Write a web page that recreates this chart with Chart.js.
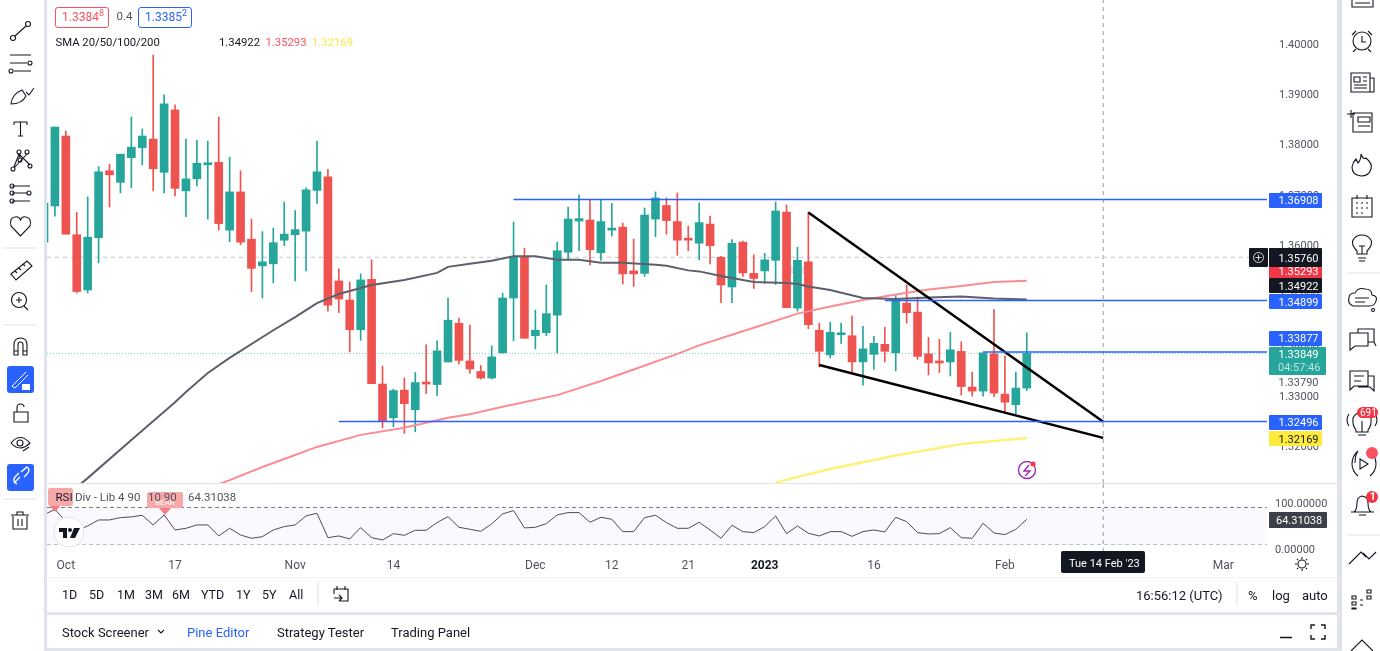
<!DOCTYPE html>
<html>
<head>
<meta charset="utf-8">
<title>GBP/USD daily</title>
<script src="https://cdn.jsdelivr.net/npm/chart.js@4"></script>
<style>
  html, body { margin: 0; padding: 0; width: 1380px; height: 651px; overflow: hidden; background: #e0e3eb; font-family: Roboto, sans-serif; color: #131722; }
  .panel { position: absolute; background: #fff; }
  canvas { position: absolute; }
  .txt { position: absolute; white-space: nowrap; transform: translateY(-50%); line-height: 1; }
  .box { position: absolute; box-sizing: border-box; }
  svg.ic { position: absolute; left: 0; top: 0; pointer-events: none; }
  svg.ic * { fill: none; stroke: #131722; stroke-width: 1.1; }
  sup { font-size: 9px; line-height: 0; }
</style>
</head>
<body>
<div class="panel" style="left:0;top:0;width:44px;height:651px"></div>
<div class="panel" style="left:1342px;top:0;width:38px;height:651px"></div>
<div class="panel" style="left:47px;top:0;width:1290px;height:612px"></div>
<div class="panel" style="left:47px;top:615px;width:1290px;height:33px"></div>
<div class="box" style="left:47px;top:577px;width:1290px;height:1px;background:#f0f3fa"></div>
<div class="box" style="left:47px;top:483px;width:1290px;height:1px;background:#e0e3eb"></div>
<div class="box" style="left:790px;top:266px;width:15px;height:8px;background:#eadcf2"></div>
<canvas id="price-chart" style="left:47px;top:0" width="1290" height="483"></canvas>
<canvas id="rsi-chart" style="left:47px;top:484px" width="1290" height="93"></canvas>

<svg class="ic" width="1380" height="651">
  <!-- left toolbar -->
  <circle cx="13" cy="38" r="2.5"/><circle cx="28" cy="24" r="2.5"/><path d="M15 36 L26 26"/>
  <path d="M10 55 H31 M10 63 H27 M14 71 H31"/><circle cx="30" cy="63" r="2"/><circle cx="11" cy="71" r="2"/>
  <path d="M11 104 Q12 94 22 90 L26 96 Q22 104 11 104 Z M26 92 L29 95 L34 88"/>
  <path d="M14 122 H27 V125 M14 122 V125 M20.500 122 V136 M18 136 H23"/>
  <circle cx="13" cy="169" r="2"/><circle cx="19" cy="152" r="2"/><circle cx="27" cy="152" r="2"/><circle cx="30" cy="166" r="2"/><circle cx="20" cy="160" r="2"/>
  <path d="M14 167 L19 154 L30 165 M27 154 L14 168 M19 154 L20 158"/>
  <path d="M12 186 H30 M12 193 H27 M12 201 H30"/><circle cx="12" cy="186" r="2"/><circle cx="12" cy="193" r="2"/><circle cx="29" cy="193" r="2"/><circle cx="12" cy="201" r="2"/>
  <path d="M20.500 236 L11 226 Q9 218 15 217 Q19 216 20.500 220 Q22 216 26 217 Q32 218 30 226 Z"/>
  <path d="M4 248 H37" style="stroke:#e0e3eb"/>
  <path d="M11 274 L27 261 L32 266 L16 280 Z M15 271 L17 273 M19 268 L21 270 M23 264 L25 266"/>
  <circle cx="19" cy="300" r="7.500"/><path d="M19 297 V303 M16 300 H22 M24 306 L28 310"/>
  <path d="M4 325 H37" style="stroke:#e0e3eb"/>
  <path d="M14 355 V345 Q14 338 20.500 338 Q27 338 27 345 V355 H23 V345 Q23 342 20.500 342 Q18 342 18 345 V355 Z M14 351 H18 M23 351 H27"/>
  <path d="M14 412 H28 V422 H14 Z M17 412 V408 Q17 404 20.500 404 Q24 404 24 407"/>
  <path d="M11 443 Q20 432 30 443 Q20 453 11 443 Z"/><circle cx="20" cy="443" r="3"/><path d="M23 451 L29 447"/>
  <path d="M4 499 H37" style="stroke:#e0e3eb"/>
  <path d="M13 516 V529 H27 V516 M11 515 H29 M17 515 V512 H23 V515 M18 519 V526 M22 519 V526"/>

  <!-- right toolbar -->
  <path d="M1352 0 V7 H1373 V0 M1355 3 H1370"/>
  <circle cx="1362" cy="41" r="9"/><path d="M1362 36 V42 H1366 M1352 35 L1356 31 M1372 35 L1368 31 M1356 49 L1353 52 M1368 49 L1371 52"/>
  <path d="M1351 73 H1370 V92 H1351 Z M1370 78 H1374 V92 H1370 M1354 77 H1360 V82 H1354 Z M1363 77 H1367 M1363 81 H1367 M1354 85 H1367 M1354 88 H1367"/>
  <path d="M1353 113 H1372 V132 H1353 Z M1358 117 H1370 V122 H1358 Z M1358 126 H1370 M1347 114 H1355 M1351 110 V118"/>
  <path d="M1361 154 Q1363 160 1366 158 Q1373 164 1371 169 Q1369 176 1361 176 Q1352 175 1352 167 Q1353 162 1356 159 L1358 163 Q1361 160 1361 154 Z"/>
  <path d="M1352 198 H1372 V217 H1352 Z M1357 195 V199 M1367 195 V199 M1356 203 H1358 M1361 203 H1363 M1366 203 H1368 M1356 208 H1358 M1361 208 H1363 M1366 208 H1368 M1356 213 H1358 M1361 213 H1363"/>
  <path d="M1357 251 Q1351 245 1353 240 Q1356 235 1362 235 Q1368 235 1371 240 Q1373 245 1367 251 V254 H1357 Z M1358 258 H1366 M1359 261 H1365 M1362 246 V254 M1359 246 H1365"/>
  <path d="M1347 273 H1380" style="stroke:#e0e3eb"/>
  <path d="M1353 306 Q1347 303 1349 298 Q1349 293 1355 293 Q1358 287 1365 289 Q1372 289 1372 295 Q1378 296 1376 301 Q1375 306 1369 306 Z M1355 298 H1369 M1355 302 H1365"/><circle cx="1373" cy="310" r="1.500"/>
  <path d="M1350 333 H1368 V346 H1355 L1350 350 Z M1358 333 V329 H1374 V342 H1368 M1374 342 L1376 346"/>
  <path d="M1350 371 H1368 V386 H1354 L1350 390 Z M1354 376 H1364 M1354 381 H1361 M1368 376 H1374 V391 L1370 387 H1358"/>
  <path d="M1356 430 Q1352 425 1353 418 Q1356 412 1362 412 Q1368 412 1371 418 Q1372 425 1368 430 V432 H1356 Z M1358 435 H1366 M1362 421 V432 M1349 414 Q1345 420 1349 426 M1375 414 Q1379 420 1375 426"/>
  <path d="M1355 463 Q1355 455 1358 451 Q1352 456 1352 464 Q1352 471 1358 476 M1370 451 Q1376 456 1376 464 Q1376 471 1370 476 M1360 459 L1368 464 L1360 469 Z"/>
  <path d="M1354 512 Q1357 510 1357 503 Q1357 497 1362 496 Q1368 497 1368 503 Q1368 510 1371 512 Z M1351 512 H1374 M1359 515 H1366"/>
  <path d="M1347 535 H1380" style="stroke:#e0e3eb"/>
  <path d="M1349 564 L1361 552 L1366 557 M1376 552 L1369 559 L1363 553"/>
  <path d="M1352 596 h4 v3 h-4 z M1352 602 h4 v3 h-4 z M1352 608 h4 v1 h-4 z M1360 600 h3 M1360 605 h3 M1367 590 h4 v3 h-4 z M1367 596 h4 v3 h-4 z"/>
  <path d="M1351 651 L1362 640 L1373 651"/>

  <!-- bottom bars and axis corner -->
  <circle cx="1302" cy="564" r="4"/><path d="M1302 557 V559 M1302 569 V571 M1295 564 H1297 M1307 564 H1309 M1297 559 L1298 560 M1306 568 L1307 569 M1297 569 L1298 568 M1306 560 L1307 559"/>
  <path d="M334 589 H348 V601 H339 M334 589 V594 M337 586 V590 M345 586 V590 M334 598 H342 M339 595 L342 598 L339 601"/>
  <path d="M318 582 V606 M1237 582 V606" style="stroke:#e0e3eb"/>
  <path d="M158 630 L161 633 L164 630"/>
  <path d="M1280 637.500 H1292" style="stroke-width:1.5"/>
  <path d="M1311 629 V625 H1315 M1321 625 H1325 V629 M1325 635 V639 H1321 M1315 639 H1311 V635" style="stroke-width:1.4"/>
  <circle cx="1027" cy="470" r="8.500" style="stroke:#9c27b0;stroke-width:1.4"/>
  <path d="M1029 465 L1024 471 H1030 L1025 476" style="stroke:#9c27b0;stroke-width:1.4"/>
</svg>

<!-- filled marks, badges and blue toolbar buttons -->
<svg class="fill" style="position:absolute;left:0;top:0" width="1380" height="651">
  <rect x="7" y="366" width="27" height="27" rx="3" fill="#2962ff"/>
  <path d="M12 386 L26 372 M15 388 L28 375 M12 386 L15 388" stroke="#fff" fill="none"/>
  <rect x="22" y="384" width="8" height="6" fill="#fff"/>
  <rect x="7" y="464" width="27" height="27" rx="3" fill="#2962ff"/>
  <path d="M14 483 L20 477 M21 472 L27 467 Q31 470 27 474 L24 477 M17 484 Q12 481 15 477 L19 473" stroke="#fff" stroke-width="1.4" fill="none"/>
  <rect x="48" y="488" width="25" height="18" rx="2" fill="#f7a9a9"/>
  <path d="M50 506 H60 L55 512 Z" fill="#f77c80"/>
  <rect x="147" y="492" width="36" height="16" rx="2" fill="#f7a9a9"/>
  <path d="M159 508 H171 L165 515 Z" fill="#f77c80"/>
  <circle cx="69" cy="532" r="15" fill="#fff" stroke="#e0e3eb"/>
  <path d="M59 528 H67 V538 H63 V532 H59 Z M74 528 H80 L75 538 H70 Z" fill="#131722"/><circle cx="70" cy="530" r="2" fill="#131722"/>
  <circle cx="1033" cy="464" r="2.500" fill="#f23645"/>
  <rect x="1357" y="407" width="21" height="11" rx="5.500" fill="#f23645"/>
  <circle cx="1372" cy="453" r="6" fill="#f7525f"/>
  <circle cx="1372" cy="497" r="6" fill="#f23645"/>
</svg>

<div id="labels"></div>

<svg style="position:absolute;left:0;top:0" width="1380" height="651">
  <circle cx="1258.500" cy="257.500" r="5" stroke="#fff" stroke-width=".8" fill="none"/>
  <path d="M1258.500 254.500 V260.500 M1255.500 257.500 H1261.500" stroke="#fff" stroke-width=".8"/>
</svg>

<script>
// day index of each candle runs 0..90 (first one is clipped by the left edge)
const opens = [
  1.3606,1.3678,1.3817,1.3621,1.3511,1.3615,1.3748,1.3725,1.3774,1.3794,
  1.3811,1.3745,1.3869,1.3708,1.3732,1.3760,1.3765,1.3630,1.3706,1.3612,
  1.3559,1.3563,1.3610,1.3621,1.3628,1.3709,1.3736,1.3529,1.3491,1.3432,
  1.3532,1.3324,1.3257,1.3312,1.3273,1.3328,1.3323,1.3368,1.3445,1.3370,
  1.3349,1.3336,1.3386,1.3495,1.3576,1.3420,1.3426,1.3461,1.3586,1.3648,
  1.3650,1.3585,1.3630,1.3636,1.3549,1.3544,1.3652,1.3679,1.3647,1.3612,
  1.3604,1.3642,1.3576,1.3517,1.3606,1.3544,1.3549,1.3570,1.3666,1.3475,
  1.3567,1.3431,1.3382,1.3422,1.3420,1.3368,1.3383,1.3403,1.3386,1.3485,
  1.3467,1.3384,1.3370,1.3368,1.3389,1.3318,1.3310,1.3384,1.3304,1.3283,1.3316
];
const highs = [
  1.3684,1.3835,1.3827,1.3665,1.3696,1.3756,1.3761,1.3781,1.3855,1.3831,
  1.3978,1.3899,1.3879,1.3811,1.3809,1.3807,1.3855,1.3775,1.3748,1.3652,
  1.3627,1.3634,1.3686,1.3669,1.3714,1.3807,1.3751,1.3553,1.3527,1.3543,
  1.3571,1.3360,1.3314,1.3336,1.3347,1.3402,1.3410,1.3495,1.3455,1.3441,
  1.3361,1.3400,1.3505,1.3646,1.3594,1.3471,1.3521,1.3606,1.3676,1.3700,
  1.3690,1.3690,1.3683,1.3644,1.3612,1.3674,1.3706,1.3694,1.3704,1.3638,
  1.3684,1.3658,1.3578,1.3611,1.3608,1.3581,1.3584,1.3686,1.3680,1.3596,
  1.3666,1.3445,1.3447,1.3445,1.3459,1.3439,1.3419,1.3437,1.3501,1.3521,
  1.3497,1.3417,1.3413,1.3427,1.3408,1.3348,1.3386,1.3472,1.3380,1.3348,1.3426
];
const lows = [
  1.3606,1.3658,1.3622,1.3505,1.3505,1.3565,1.3676,1.3704,1.3714,1.3760,
  1.3708,1.3704,1.3698,1.3657,1.3718,1.3652,1.3630,1.3607,1.3601,1.3508,
  1.3495,1.3525,1.3599,1.3529,1.3549,1.3683,1.3469,1.3466,1.3388,1.3411,
  1.3325,1.3237,1.3239,1.3226,1.3229,1.3305,1.3301,1.3368,1.3364,1.3345,
  1.3334,1.3334,1.3386,1.3410,1.3415,1.3394,1.3420,1.3386,1.3571,1.3589,
  1.3561,1.3570,1.3618,1.3523,1.3518,1.3538,1.3617,1.3622,1.3580,1.3589,
  1.3571,1.3563,1.3486,1.3486,1.3538,1.3514,1.3524,1.3522,1.3476,1.3469,
  1.3434,1.3358,1.3376,1.3405,1.3347,1.3322,1.3353,1.3368,1.3350,1.3445,
  1.3373,1.3342,1.3347,1.3340,1.3302,1.3300,1.3300,1.3299,1.3266,1.3265,1.3311
];
const closes = [
  1.3684,1.3835,1.3622,1.3508,1.3616,1.3746,1.3740,1.3781,1.3795,1.3817,
  1.3752,1.3881,1.3713,1.3732,1.3763,1.3763,1.3643,1.3706,1.3606,1.3554,
  1.3567,1.3605,1.3622,1.3631,1.3710,1.3746,1.3481,1.3493,1.3432,1.3531,
  1.3325,1.3250,1.3311,1.3285,1.3327,1.3324,1.3390,1.3451,1.3371,1.3354,
  1.3336,1.3378,1.3495,1.3578,1.3415,1.3431,1.3464,1.3589,1.3652,1.3653,
  1.3591,1.3647,1.3634,1.3543,1.3543,1.3660,1.3694,1.3649,1.3610,1.3610,
  1.3645,1.3599,1.3521,1.3604,1.3545,1.3534,1.3571,1.3668,1.3476,1.3570,
  1.3442,1.3389,1.3427,1.3425,1.3368,1.3394,1.3405,1.3389,1.3493,1.3466,
  1.3379,1.3366,1.3366,1.3392,1.3319,1.3310,1.3386,1.3306,1.3288,1.3316,1.33849
];

const sma50Days = [3,4,8,12,13,15,17,21,23,25,27,30,33,36,37,39,41,43,45,47,49,51,53,56,57,59,60,62,65,68,69,70,72,75,78,81,84,87,90];
const sma50 = [1.3119,1.3137,1.3213,1.3288,1.3308,1.3346,1.3376,1.3431,1.3457,1.3485,1.3503,1.3521,1.3531,1.3545,1.3557,1.3563,1.3569,1.3578,1.3578,1.3571,1.3571,1.3565,1.3565,1.3561,1.3559,1.3550,1.3548,1.3539,1.3527,1.3525,1.3523,1.3518,1.3511,1.3495,1.3493,1.3496,1.3498,1.3494,1.34922];
const sma100Days = [16,17,20,23,25,29,33,37,39,42,47,51,54,58,60,63,67,69,72,75,78,81,84,87,90];
const sma100 = [1.3125,1.3133,1.3159,1.3183,1.3199,1.3223,1.3237,1.3257,1.3264,1.3279,1.3302,1.3330,1.3353,1.3384,1.3401,1.3422,1.3450,1.3464,1.3478,1.3491,1.3502,1.3512,1.3519,1.3527,1.35293];
const sma200Days = [67,68,72,78,84,90];
const sma200 = [1.3128,1.3134,1.3155,1.3182,1.3205,1.32169];

const rsiValues = [
  74,86.2,59.4,39.9,50,63,63,68.1,69.6,73.2,
  52.2,73.9,41.3,44.9,52.2,52.2,28.3,44.9,30.4,23.2,
  26.8,41.3,48.6,52.2,71.7,77.5,24.6,28.3,21.7,46.4,
  24.6,19.6,33.3,29.7,40.6,40.6,57.3,70.3,47.1,42.8,
  38.4,54.4,76.1,83.3,45.7,47.1,55.1,73.9,79,79,
  58,68.8,64.5,37.7,37.7,68.1,73.2,57.3,44.9,44.9,
  58,41.3,23.2,51.5,37.7,35.5,48.6,71.7,33.3,50,
  34.1,28.3,37.7,37.7,27.5,37.7,41.3,37,68.8,59.4,
  35.5,32.6,33.3,46.4,24.6,23.2,55.8,34.8,31.2,42.8,64.31038
];

// horizontal levels: price and the day each one starts on
const levelPrices = [1.36908, 1.34899, 1.33877, 1.32496];
const levelStartDays = [43, 77, 86, 27];
// wedge lines: start day, start price, end day, end price
const wedgeUpper = [70, 1.3665, 97, 1.3249];
const wedgeLower = [71, 1.3362, 97, 1.3217];

const priceTicks = [1.40, 1.39, 1.38, 1.37, 1.36, 1.35, 1.34, 1.33, 1.32];
const rsiTicks = [100, 0];
const rsiBands = [90, 10];
const dateTickDays = [2, 12, 23, 32, 45, 52, 59, 66, 76, 88, 108];
const dateTickLabels = ['Oct', '17', 'Nov', '14', 'Dec', '12', '21', '2023', '16', 'Feb', 'Mar'];

const crosshairDay = 97;
const crosshairPrice = 1.3576;
const lastPrice = 1.33849;

const up = '#26a69a';
const down = '#ef5350';
const dayMin = 0.275, dayMax = 112;
const priceMin = 1.31273, priceMax = 1.40875;
const rsiMin = -6.5, rsiMax = 141;

function toPoints(xs, ys) {
  return xs.map((x, i) => ({ x: x, y: ys[i] }));
}

const candleColors = closes.map((c, i) => c >= opens[i] ? up : down);

function lineSet(data, color, width, extra) {
  return Object.assign({
    type: 'line', data: data, borderColor: color, borderWidth: width,
    pointRadius: 0, tension: 0, order: 0
  }, extra || {});
}

// chart.js reserves half a label plus padding at the ends of an axis, we want the plot edge to edge
function noEndPadding(axis) {
  axis.paddingTop = 0;
  axis.paddingBottom = 0;
  axis.paddingLeft = 0;
  axis.paddingRight = 0;
}

const priceDatasets = [
  { type: 'bar', data: highs.map((h, i) => ({ x: i, y: [lows[i], h] })), backgroundColor: candleColors, barThickness: 1, order: 3 },
  { type: 'bar', data: opens.map((o, i) => ({ x: i, y: [o, closes[i]] })), backgroundColor: candleColors, barThickness: 8, minBarLength: 2, order: 2 },
  lineSet(toPoints(sma50Days, sma50), '#5d606b', 2, { order: 1 }),
  lineSet(toPoints(sma100Days, sma100), '#fb8c92', 2, { order: 1 }),
  lineSet(toPoints(sma200Days, sma200), '#fff176', 2.5, { order: 1 }),
  lineSet([{ x: dayMin, y: crosshairPrice }, { x: dayMax, y: crosshairPrice }], '#c4c6cc', 1, { borderDash: [4, 4], order: 4 }),
  lineSet([{ x: dayMin, y: lastPrice }, { x: dayMax, y: lastPrice }], '#7fcdc5', 1, { borderDash: [1, 2], order: 4 }),
  lineSet([{ x: crosshairDay, y: priceMin }, { x: crosshairDay, y: priceMax }], '#9598a1', 1, { borderDash: [4, 4], order: 4 })
];
levelPrices.forEach((p, i) => {
  priceDatasets.push(lineSet([{ x: levelStartDays[i], y: p }, { x: dayMax, y: p }], '#2962ff', 1.5));
});
[wedgeUpper, wedgeLower].forEach(w => {
  priceDatasets.push(lineSet([{ x: w[0], y: w[1] }, { x: w[2], y: w[3] }], '#000000', 2.5));
});

const tickFont = { family: 'Roboto, sans-serif', size: 11 };
const tickColor = '#50535e';

new Chart(document.getElementById('price-chart'), {
  data: { datasets: priceDatasets },
  options: {
    responsive: false,
    animation: false,
    layout: { padding: 0 },
    datasets: { bar: { grouped: false } },
    plugins: { legend: { display: false }, tooltip: { enabled: false } },
    scales: {
      x: { type: 'linear', min: dayMin, max: dayMax, offset: false, display: false },
      y: {
        type: 'linear', position: 'right', min: priceMin, max: priceMax,
        grid: { display: false }, border: { display: false },
        afterBuildTicks: axis => { axis.ticks = priceTicks.map(v => ({ value: v })); },
        afterFit: axis => { axis.width = 70; noEndPadding(axis); },
        ticks: { color: tickColor, font: tickFont, padding: 4, labelOffset: 1, callback: v => v.toFixed(5) }
      }
    }
  }
});

const rsiDatasets = [
  lineSet(rsiValues.map((v, i) => ({ x: i, y: v })), '#4a4d57', 1, { order: 0 }),
  lineSet([{ x: dayMin, y: rsiBands[0] }, { x: dayMax, y: rsiBands[0] }], '#787b86', 1, {
    borderDash: [4, 3], order: 2, fill: { value: rsiBands[1] }, backgroundColor: '#fbf8fe'
  }),
  lineSet([{ x: dayMin, y: rsiBands[1] }, { x: dayMax, y: rsiBands[1] }], '#787b86', 1, { borderDash: [4, 3], order: 2 }),
  lineSet([{ x: crosshairDay, y: rsiMin }, { x: crosshairDay, y: rsiMax }], '#9598a1', 1, { borderDash: [4, 4], order: 1 })
];

new Chart(document.getElementById('rsi-chart'), {
  data: { datasets: rsiDatasets },
  options: {
    responsive: false,
    animation: false,
    layout: { padding: 0 },
    plugins: { legend: { display: false }, tooltip: { enabled: false } },
    scales: {
      x: {
        type: 'linear', min: dayMin, max: dayMax,
        grid: { display: false }, border: { display: false },
        afterBuildTicks: axis => { axis.ticks = dateTickDays.map(v => ({ value: v })); },
        afterFit: axis => { axis.height = 25; noEndPadding(axis); },
        ticks: {
          autoSkip: false, maxRotation: 0, padding: -1,
          color: ctx => ctx.tick && ctx.tick.value === 66 ? '#131722' : tickColor,
          font: ctx => Object.assign({}, tickFont, { size: 12, weight: ctx.tick && ctx.tick.value === 66 ? 'bold' : 'normal' }),
          callback: v => dateTickLabels[dateTickDays.indexOf(v)]
        }
      },
      y: {
        type: 'linear', position: 'right', min: rsiMin, max: rsiMax,
        grid: { display: false }, border: { display: false },
        afterBuildTicks: axis => { axis.ticks = rsiTicks.map(v => ({ value: v })); },
        afterFit: axis => { axis.width = 70; noEndPadding(axis); },
        ticks: { color: tickColor, font: tickFont, padding: 0, labelOffset: 1, callback: v => v.toFixed(5) }
      }
    }
  }
});

// text overlay, everything stays real text
const host = document.getElementById('labels');
function text(str, x, y, size, color, extra) {
  const el = document.createElement('div');
  el.className = 'txt';
  el.innerHTML = str;
  el.style.cssText = 'left:' + x + 'px;top:' + y + 'px;font-size:' + size + 'px;color:' + color + ';' + (extra || '');
  host.appendChild(el);
}
function box(x, y, w, h, css) {
  const el = document.createElement('div');
  el.className = 'box';
  el.style.cssText = 'left:' + x + 'px;top:' + y + 'px;width:' + w + 'px;height:' + h + 'px;' + css;
  host.appendChild(el);
}
function tag(str, top, bg, color) {
  box(1269, top, 53, 15, 'background:' + bg + ';border-radius:1px');
  text(str, 1278.5, top + 7.5, 11, color);
}

tag('1.36908', 192.5, '#2962ff', '#fff');
tag('1.35293', 263.5, '#f23645', '#fff');
box(1249, 248, 19, 19, 'background:#131722;border-radius:1px');
box(1269, 248, 53, 19, 'background:#131722;border-radius:1px');
text('1.35760', 1278.5, 258, 11, '#fff');
tag('1.34922', 278, '#131722', '#fff');
tag('1.34899', 294, '#2962ff', '#fff');
tag('1.33877', 330.5, '#2962ff', '#fff');
box(1269, 346.5, 57, 28, 'background:#26a69a;border-radius:1px');
text('1.33849', 1278.5, 354, 11, '#fff');
text('04:57:46', 1278, 367, 11, '#bfe5e1');
text('1.33790', 1278.5, 381.5, 11, '#50535e');
tag('1.32496', 414.5, '#2962ff', '#fff');
tag('1.32169', 431, '#ffeb3b', '#131722');
box(1269, 512, 58, 15.5, 'background:#3d4048;border-radius:1px');
text('64.31038', 1276, 520, 11, '#fff');

box(55, 6.5, 53.5, 21, 'border:1px solid #f7525f;border-radius:3px');
text('1.3384<sup>8</sup>', 62, 17, 12, '#f7525f');
text('0.4', 116.500, 17, 11.5, '#50535e');
box(138, 6.5, 53.5, 21, 'border:1px solid #2962ff;border-radius:3px');
text('1.3385<sup>2</sup>', 145, 17, 12, '#2962ff');
text('SMA 20/50/100/200', 55.5, 43, 11.3, '#131722');
text('1.34922', 219, 43, 11.3, '#131722');
text('1.35293', 265.500, 43, 11.3, '#f7525f');
text('1.32169', 312, 43, 11.3, '#fbe74c');

text('BEAR', 155, 503, 8, '#fff');
text('RSI', 55.5, 498, 11.5, '#131722');
text('Div - Lib 4 90', 75, 498, 11.5, '#50535e');
text('10 90', 148, 498, 11.5, '#50535e');
text('64.31038', 188, 498, 11.5, '#50535e');

box(1061, 551, 84, 21.5, 'background:#131722;border-radius:2px');
text("Tue 14 Feb '23", 1069, 562.5, 11, '#fff');

const ranges = ['1D', '5D', '1M', '3M', '6M', 'YTD', '1Y', '5Y', 'All'];
const rangeX = [62, 89, 117, 145, 172, 201, 236, 262, 289];
ranges.forEach((r, i) => text(r, rangeX[i], 595, 12.5, '#131722'));
text('16:56:12 (UTC)', 1136, 595, 13, '#131722');
text('%', 1248, 595, 13, '#131722');
text('log', 1272, 595, 13, '#131722');
text('auto', 1302, 595, 13, '#131722');

text('Stock Screener', 62, 632, 13, '#131722');
text('Pine Editor', 187, 632, 13, '#2962ff');
text('Strategy Tester', 277, 632, 13, '#131722');
text('Trading Panel', 391, 632, 13, '#131722');

text('691', 1360, 412.500, 10, '#fff');
text('1', 1370, 497, 10, '#fff', 'font-weight:bold');
</script>
</body>
</html>
